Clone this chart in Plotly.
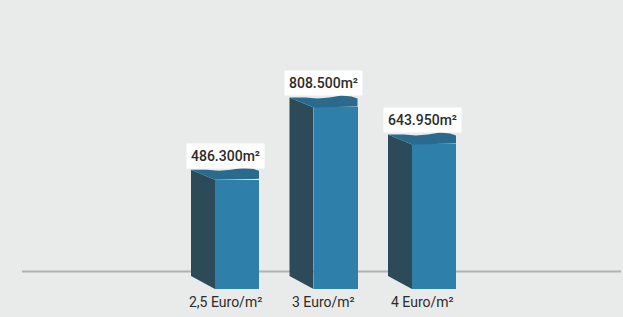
import plotly.graph_objects as go

# ---- data ----
categories = ["2,5 Euro/m²", "3 Euro/m²", "4 Euro/m²"]
values = [486300, 808500, 643950]
value_labels = ["486.300m²", "808.500m²", "643.950m²"]

# ---- styling / geometry ----
W, H = 623, 317
BG = "#e9ebea"
FRONT = "#2f7fab"
SIDE = "#2c4a57"
TOP = "#2a6a8c"
PX_PER_CAT = 98.5          # pixels between category centres
X0_PX = 225                # pixel of first category centre
BASE_PX = 289              # pixel of value 0
PX_PER_UNIT = 0.0002245    # vertical pixels per value unit


def dx(px):
    return px / PX_PER_CAT


def dy(px):
    return px / PX_PER_UNIT


xs = list(range(len(categories)))

fig = go.Figure()

# front faces (real bars)
fig.add_trace(go.Bar(
    x=xs, y=values, base=0,
    width=dx(44), offset=dx(-10),
    marker=dict(color=FRONT, line=dict(width=0)),
    hoverinfo="skip", showlegend=False,
))

# side and top faces
back_edge = [(34, 9), (28, 11), (18, 12), (6, 10), (-6, 9), (-18, 10), (-28, 10), (-34, 10)]
for i, v in zip(xs, values):
    sx = [i + dx(-34), i + dx(-10), i + dx(-10), i + dx(-34), i + dx(-34)]
    sy = [v + dy(10), v, 0, dy(13), v + dy(10)]
    fig.add_trace(go.Scatter(x=sx, y=sy, mode="lines", fill="toself",
                             fillcolor=SIDE, line=dict(width=0),
                             hoverinfo="skip", showlegend=False))
    tx = [i + dx(-10), i + dx(34)] + [i + dx(a) for a, b in back_edge] + [i + dx(-10)]
    ty = [v, v + dy(1)] + [v + dy(b) for a, b in back_edge] + [v]
    fig.add_trace(go.Scatter(x=tx, y=ty, mode="lines", fill="toself",
                             fillcolor=TOP, line=dict(width=0),
                             hoverinfo="skip", showlegend=False))

annotations = []
for i, v, lab in zip(xs, values, value_labels):
    annotations.append(dict(
        x=i, y=v, xref="x", yref="y", text=lab, showarrow=False,
        yshift=24, bgcolor="white", borderpad=4,
        font=dict(family="Roboto", size=14, color="#2b2b2b", weight=500),
    ))
for i, c in zip(xs, categories):
    annotations.append(dict(
        x=i, y=1 - 302 / H, xref="x", yref="paper", text=c, showarrow=False,
        yanchor="middle", xanchor="center",
        font=dict(family="Roboto", size=14, color="#2b2b2b"),
    ))

fig.update_layout(
    width=W, height=H,
    margin=dict(l=0, r=0, t=0, b=0),
    paper_bgcolor=BG, plot_bgcolor=BG,
    bargap=0,
    xaxis=dict(range=[-X0_PX / PX_PER_CAT, (W - X0_PX) / PX_PER_CAT],
               visible=False, fixedrange=True),
    yaxis=dict(range=[-(H - BASE_PX) / PX_PER_UNIT, BASE_PX / PX_PER_UNIT],
               visible=False, fixedrange=True),
    shapes=[dict(type="line", xref="paper", yref="paper",
                 x0=22 / W, x1=621 / W, y0=1 - 271.5 / H, y1=1 - 271.5 / H,
                 line=dict(color="#aeb2b2", width=2), layer="below")],
    annotations=annotations,
)

fig.write_html(
    "out.html",
    config={"displayModeBar": False},
    post_script="document.body.style.margin='0';document.body.style.overflow='hidden';document.body.style.background='#e9ebea';",
)
